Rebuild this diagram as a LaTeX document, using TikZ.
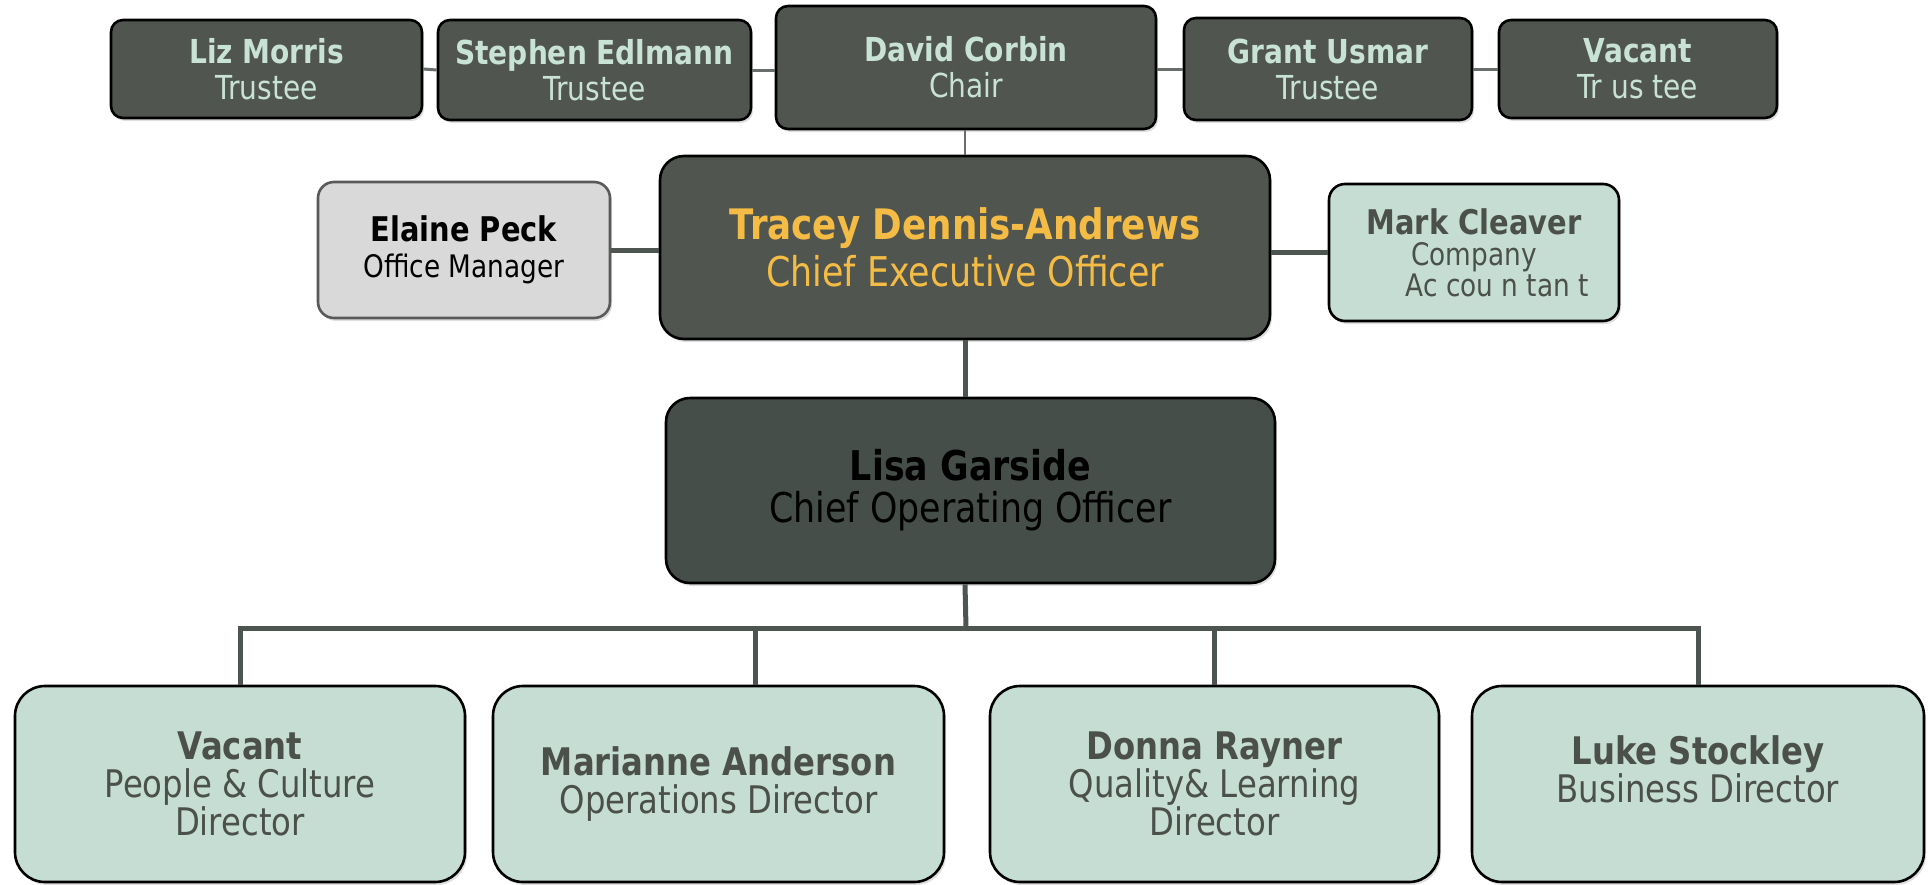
\documentclass[tikz,border=0pt]{standalone}
\usepackage{fontspec}
\setmainfont{DejaVu Sans}[FakeStretch=0.85]
\usetikzlibrary{shadows}

\definecolor{darkbox}{HTML}{50554F}
\definecolor{coobox}{HTML}{464E49}
\definecolor{mintbox}{HTML}{C5DDD2}
\definecolor{minttext}{HTML}{C9E2D6}
\definecolor{goldtext}{HTML}{F4BC45}
\definecolor{greybox}{HTML}{D9D9D9}
\definecolor{greytext}{HTML}{4B504B}
\definecolor{linecol}{HTML}{4D5550}

\begin{document}
\begin{tikzpicture}[x=0.5pt,y=-0.5pt,
  box/.style={draw=black,line width=1.3pt,align=center,inner sep=0pt,
    drop shadow={opacity=0.25,shadow xshift=1pt,shadow yshift=-1.5pt}},
  trustee/.style={box,fill=darkbox,text=minttext,rounded corners=6pt,font=\fontsize{16.5}{18}\selectfont},
  chief/.style={box,fill=darkbox,rounded corners=12pt},
  side/.style={box,fill=mintbox,text=greytext,rounded corners=8pt},
  director/.style={box,fill=mintbox,text=greytext,rounded corners=15pt,font=\fontsize{19}{19}\selectfont},
  link/.style={draw=linecol!85!white,line width=1.5pt},
  bone/.style={draw=linecol,line width=2.5pt}]
\useasboundingbox (0,0) rectangle (1928,884);

% trustees
\node[trustee,minimum width=155.5pt,minimum height=49pt] (liz) at (266.5,69) {\textbf{Liz Morris}\\Trustee};
\node[trustee,minimum width=156.5pt,minimum height=50pt] (stephen) at (594.5,70) {\textbf{Stephen Edlmann}\\Trustee};
\node[trustee,minimum width=190pt,minimum height=61.5pt] (david) at (966,67.5) {\textbf{David Corbin}\\Chair};
\node[trustee,minimum width=144pt,minimum height=51pt] (grant) at (1328,69) {\textbf{Grant Usmar}\\Trustee};
\node[trustee,minimum width=139pt,minimum height=49pt] (vacanttr) at (1638,69) {\textbf{Vacant}\\Tr us tee};

% chief executive and side posts
\node[chief,text=goldtext,minimum width=305pt,minimum height=91.5pt,font=\fontsize{20.5}{23.5}\selectfont] (ceo) at (965,247.5) {\textbf{\fontsize{21}{23.5}\selectfont Tracey Dennis-Andrews}\\Chief Executive Officer};
\node[side,fill=greybox,draw=black!65,text=black,minimum width=146pt,minimum height=68pt,font=\fontsize{15.5}{18}\selectfont] (elaine) at (464,250) {\textbf{\fontsize{17}{18}\selectfont Elaine Peck}\\Office Manager};
\node[side,minimum width=145pt,minimum height=68.5pt,font=\fontsize{15.5}{15.5}\selectfont] (mark) at (1474,252.5) {\textbf{\fontsize{17}{15.5}\selectfont Mark Cleaver}\\Company\\\hspace{1.5em}Ac cou n tan t};

% chief operating officer
\node[chief,fill=coobox,text=black,minimum width=304.5pt,minimum height=92.5pt,font=\fontsize{20.5}{21}\selectfont] (coo) at (970.5,490.5) {\textbf{Lisa Garside}\\Chief Operating Officer};

% directors
\node[director,minimum width=225pt,minimum height=98pt] (people) at (240,784) {\textbf{Vacant}\\People \& Culture\\Director};
\node[director,minimum width=225.5pt,minimum height=98pt] (ops) at (718.5,784) {\textbf{Marianne Anderson}\\Operations Director};
\node[director,minimum width=224.5pt,minimum height=98pt] (quality) at (1214.5,784) {\textbf{Donna Rayner}\\Quality\& Learning\\Director};
\node[director,minimum width=226pt,minimum height=98pt] (business) at (1698,784) {\textbf{Luke Stockley}\\Business Director\\[-4pt]};

\coordinate (bar) at (966,628);

\draw[link] (liz.east) -- (stephen.west);
\draw[link] (stephen.east) -- (stephen.east -| david.west);
\draw[link] (david.east |- grant.west) -- (grant.west);
\draw[link] (grant.east) -- (vacanttr.west);
\draw[link,line width=1pt] (david.south -| ceo.north) -- (ceo.north);

\draw[bone] (elaine.east) -- (elaine.east -| ceo.west);
\draw[bone] (mark.west) -- (mark.west -| ceo.east);
\draw[bone] (ceo.south) -- (ceo.south |- coo.north);
\draw[bone] (ceo.south |- coo.south) -- (bar);
\draw[bone] (people.north) -- (people.north |- bar) -- (business.north |- bar) -- (business.north);
\draw[bone] ([xshift=18.25pt]ops.north) -- ([xshift=18.25pt]ops.north |- bar);
\draw[bone] (quality.north) -- (quality.north |- bar);

\end{tikzpicture}
\end{document}
